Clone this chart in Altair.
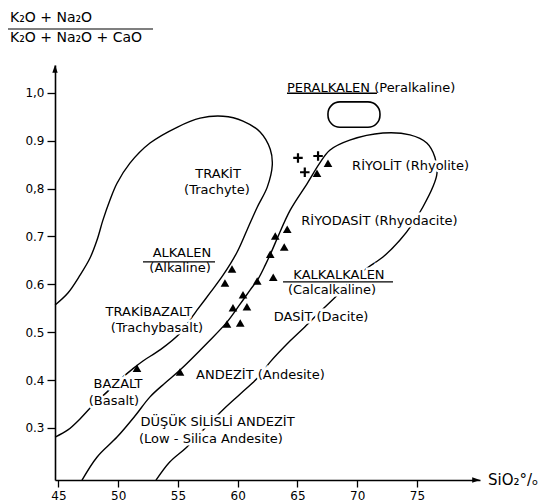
import altair as alt
import pandas as pd

# ---- boundary curves (SiO2 %, ratio) ----
c1_x = [44.72, 45.79, 46.80, 47.64, 48.22, 48.72, 49.31, 49.90, 50.98, 52.66, 54.92, 56.85,
        58.77, 60.44, 61.87, 62.72, 62.89, 62.47, 61.63, 60.77, 59.94, 58.77, 57.68, 56.59,
        55.17, 53.49, 52.07, 51.19, 50.09, 49.14, 47.89, 46.80, 45.79, 44.72]
c1_y = [0.557, 0.582, 0.619, 0.655, 0.692, 0.734, 0.776, 0.811, 0.853, 0.895, 0.928, 0.947,
        0.951, 0.941, 0.918, 0.882, 0.849, 0.803, 0.761, 0.713, 0.667, 0.619, 0.582, 0.546,
        0.498, 0.463, 0.440, 0.423, 0.400, 0.377, 0.348, 0.319, 0.296, 0.281]

c2_x = [46.97, 48.22, 49.90, 51.40, 52.66, 53.92, 55.17, 57.43, 59.10, 60.21, 61.03, 61.70,
        62.30, 62.89, 63.39, 64.39, 65.82, 66.86, 67.70, 69.37, 72.15, 74.41, 75.82, 76.49,
        76.67, 76.32, 75.48, 74.67, 73.56, 72.15, 70.82, 69.37, 68.28, 66.86, 65.61, 64.39,
        62.72, 61.63, 60.21, 58.77, 57.26, 55.73, 54.31, 53.16]
c2_y = [0.191, 0.239, 0.281, 0.325, 0.365, 0.394, 0.421, 0.477, 0.521, 0.559, 0.588, 0.611,
        0.640, 0.672, 0.701, 0.755, 0.811, 0.853, 0.880, 0.901, 0.916, 0.912, 0.895, 0.866,
        0.832, 0.803, 0.761, 0.728, 0.692, 0.657, 0.634, 0.605, 0.576, 0.542, 0.511, 0.482,
        0.438, 0.404, 0.371, 0.338, 0.300, 0.260, 0.229, 0.191]

# peralkaline field (rounded box)
per_x = [67.55]
per_x2 = [71.90]
per_y = [0.981]
per_y2 = [0.928]

# samples
tri_x = [51.57, 55.17, 59.10, 60.21, 59.60, 60.77, 60.44, 58.93, 59.52, 61.63, 62.97,
         62.72, 63.89, 63.14, 64.14, 66.63, 67.55]
tri_y = [0.425, 0.417, 0.517, 0.519, 0.551, 0.553, 0.578, 0.603, 0.632, 0.607, 0.615,
         0.663, 0.678, 0.701, 0.715, 0.832, 0.853]
plus_x = [65.04, 66.72, 65.61]
plus_y = [0.864, 0.868, 0.834]

# field labels (centred)
lab_text = ["TRAKİT", "(Trachyte)", "ALKALEN", "(Alkaline)",
            "TRAKİBAZALT", "(Trachybasalt)", "BAZALT", "(Basalt)", "ANDEZİT (Andesite)",
            "DASİT (Dacite)", "KALKALKALEN", "(Calcalkaline)", "RİYODASİT (Rhyodacite)",
            "RİYOLİT (Rhyolite)", "DÜŞÜK SİLİSLİ ANDEZİT", "(Low - Silica Andesite)"]
lab_x = [58.35, 58.26, 55.33, 55.17, 52.57, 53.24, 49.98, 49.64, 61.90,
         66.97, 68.47, 67.89, 71.86, 74.46, 58.31, 57.76]
lab_y = [0.831, 0.798, 0.665, 0.634, 0.542, 0.509, 0.391, 0.357, 0.411,
         0.532, 0.619, 0.588, 0.732, 0.847, 0.3135, 0.278]

# left-aligned label
left_text = ["PERALKALEN (Peralkaline)"]
left_x = [64.12]
left_y = [1.010]

# underlines
ul_x = [64.12, 52.07, 63.79]
ul_x2 = [71.65, 58.10, 72.99]
ul_y = [0.999, 0.647, 0.605]

x_ticks = [45, 50, 55, 60, 65, 70, 75]
y_ticks = [0.3, 0.4, 0.5, 0.6, 0.7, 0.8, 0.9, 1.0]

FONT = "DejaVu Sans"
XDOM = [44.71, 80.27]
YDOM = [0.1914, 1.058]
W, H = 425, 415

curves = pd.DataFrame({
    "x": c1_x + c2_x,
    "y": c1_y + c2_y,
    "curve": ["c1"] * len(c1_x) + ["c2"] * len(c2_x),
    "i": list(range(len(c1_x))) + list(range(len(c2_x))),
})
tri = pd.DataFrame({"x": tri_x, "y": tri_y})
plus = pd.DataFrame({"x": plus_x, "y": plus_y})
labels = pd.DataFrame({"t": lab_text, "x": lab_x, "y": lab_y})
llabels = pd.DataFrame({"t": left_text, "x": left_x, "y": left_y})
ul = pd.DataFrame({"x": ul_x, "x2": ul_x2, "y": ul_y})
per = pd.DataFrame({"x": per_x, "x2": per_x2, "y": per_y, "y2": per_y2})

xs = alt.Scale(domain=XDOM, nice=False, zero=False)
ys = alt.Scale(domain=YDOM, nice=False, zero=False)

xaxis = alt.Axis(values=x_ticks, format="d", title=None, grid=False, tickSize=7,
                 labelPadding=3, labelFontSize=12, labelFont=FONT, labelColor="black",
                 domainColor="black", tickColor="black", domainWidth=1.6, tickWidth=1.3)
yaxis = alt.Axis(values=y_ticks, title=None, grid=False, tickSize=8, labelPadding=3,
                 labelFontSize=12, labelFont=FONT, labelColor="black",
                 labelExpr="datum.value == 1 ? '1,0' : (abs(datum.value - 0.8) < 0.001 ? '0,8' : format(datum.value, '.1f'))",
                 domainColor="black", tickColor="black", domainWidth=1.6, tickWidth=1.3)

lines = alt.Chart(curves).mark_line(color="black", strokeWidth=1.4, interpolate="catmull-rom").encode(
    x=alt.X("x:Q", scale=xs, axis=xaxis),
    y=alt.Y("y:Q", scale=ys, axis=yaxis),
    detail="curve:N",
    order="i:Q",
)

box = alt.Chart(per).mark_rect(fill=None, stroke="black", strokeWidth=1.6, cornerRadius=12).encode(
    x=alt.X("x:Q", scale=xs), x2="x2:Q", y=alt.Y("y:Q", scale=ys), y2="y2:Q")


def text_layers(df, align):
    enc = dict(x=alt.X("x:Q", scale=xs), y=alt.Y("y:Q", scale=ys), text="t:N")
    h = alt.Chart(df).mark_text(font=FONT, fontSize=13, stroke="white", strokeWidth=5,
                                fill="white", align=align, baseline="middle").encode(**enc)
    t = alt.Chart(df).mark_text(font=FONT, fontSize=13, color="black",
                                align=align, baseline="middle").encode(**enc)
    return [h, t]


underl = alt.Chart(ul).mark_rule(color="black", strokeWidth=1.3).encode(
    x=alt.X("x:Q", scale=xs), x2="x2:Q", y=alt.Y("y:Q", scale=ys))

tris = alt.Chart(tri).mark_point(shape="triangle-up", filled=True, color="black", size=75, opacity=1).encode(
    x=alt.X("x:Q", scale=xs), y=alt.Y("y:Q", scale=ys))
pluses = alt.Chart(plus).mark_point(shape="M-1,0L1,0M0,-1L0,1", filled=False, color="black",
                                    strokeWidth=2.2, size=90, opacity=1).encode(
    x=alt.X("x:Q", scale=xs), y=alt.Y("y:Q", scale=ys))

one = pd.DataFrame({"a": [0]})
num = alt.Chart(one).mark_text(text="K₂O + Na₂O", font=FONT, fontSize=14, align="left",
                               baseline="middle", color="black").encode(x=alt.value(-45), y=alt.value(-47))
den = alt.Chart(one).mark_text(text="K₂O + Na₂O + CaO", font=FONT, fontSize=14, align="left",
                               baseline="middle", color="black").encode(x=alt.value(-45), y=alt.value(-27))
frac = alt.Chart(one).mark_rule(color="black", strokeWidth=1.2).encode(
    x=alt.value(-47), x2=alt.value(98), y=alt.value(-36))
sio2 = alt.Chart(one).mark_text(text="SiO₂°/ₒ", font=FONT, fontSize=15, align="left",
                                baseline="middle", color="black").encode(x=alt.value(433), y=alt.value(H))
arrow_up = alt.Chart(one).mark_point(shape="M0,-1L0.45,0.3L-0.45,0.3Z", filled=True, color="black",
                                     size=144, opacity=1).encode(x=alt.value(0), y=alt.value(6))
arrow_rt = alt.Chart(one).mark_point(shape="M1,0L-0.3,0.45L-0.3,-0.45Z", filled=True, color="black",
                                     size=144, opacity=1).encode(x=alt.value(W - 6), y=alt.value(H))

layers = [lines, box] + text_layers(labels, "center") + text_layers(llabels, "left") + \
         [underl, tris, pluses, num, den, frac, sio2, arrow_up, arrow_rt]

chart = alt.layer(*layers).properties(
    width=W, height=H,
    autosize=alt.AutoSizeParams(type="none"),
    padding={"left": 47, "top": 57, "right": 60, "bottom": 21},
    background="white",
).configure_view(stroke=None)

chart.save("out.html", embed_options={"renderer": "svg", "actions": False})
